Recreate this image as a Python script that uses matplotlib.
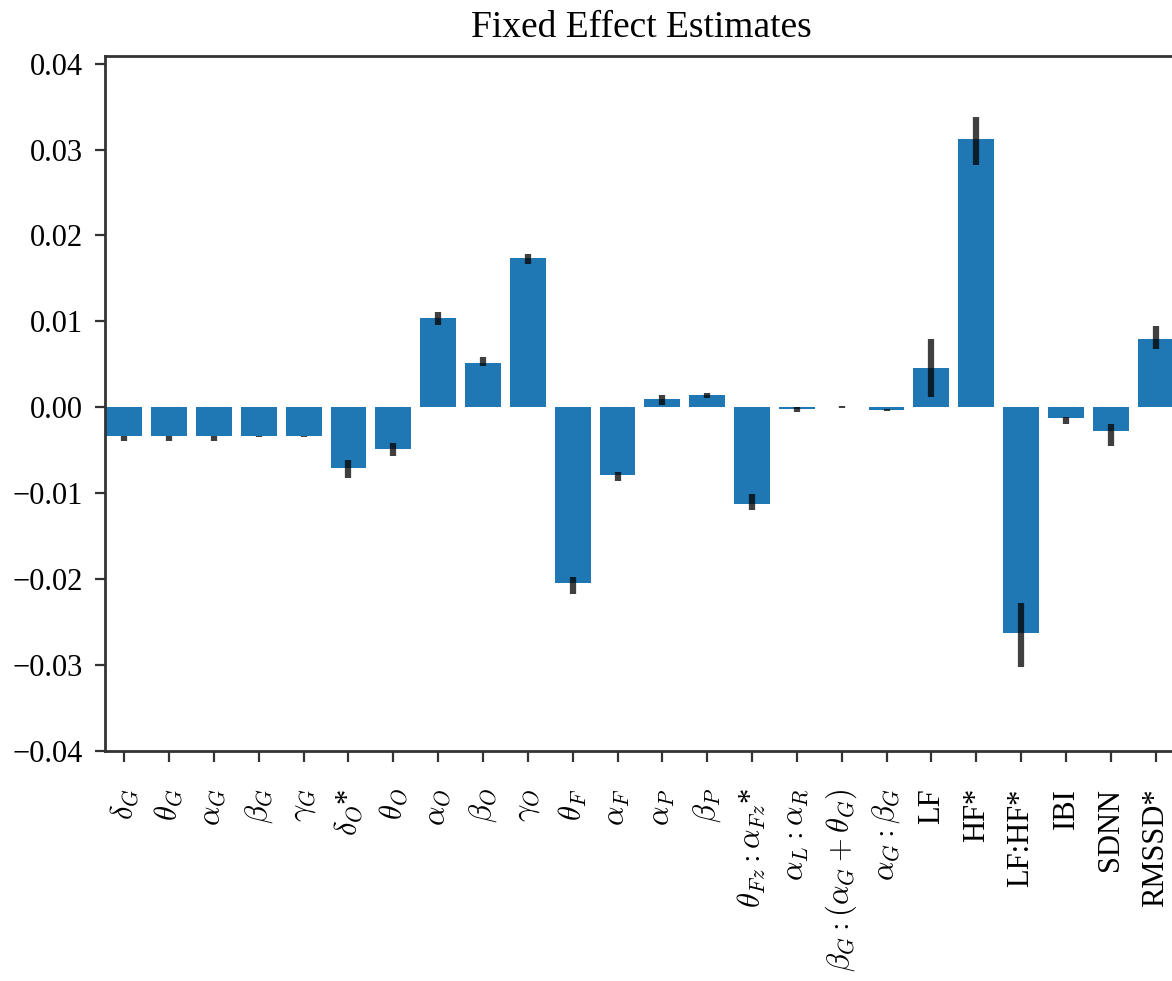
import numpy as np
import matplotlib
matplotlib.use("Agg")
import matplotlib.pyplot as plt

plt.rcParams.update({
    "font.family": "serif",
    "font.serif": ["Liberation Serif", "DejaVu Serif"],
    "mathtext.fontset": "cm",
    "axes.edgecolor": "#333333",
    "axes.linewidth": 2.0,
})

# ── Data ────────────────────────────────────────────────────────────────
labels = [
    r"$\delta_G$", r"$\theta_G$", r"$\alpha_G$", r"$\beta_G$", r"$\gamma_G$",
    r"$\delta_O$*", r"$\theta_O$", r"$\alpha_O$", r"$\beta_O$", r"$\gamma_O$",
    r"$\theta_F$", r"$\alpha_F$", r"$\alpha_P$", r"$\beta_P$",
    r"$\theta_{Fz}:\alpha_{Fz}$*", r"$\alpha_L:\alpha_R$",
    r"$\beta_G:(\alpha_G+\theta_G)$", r"$\alpha_G:\beta_G$",
    "LF", "HF*", "LF:HF*", "IBI", "SDNN", "RMSSD*",
]

estimates = np.array([
    -0.0034, -0.0034, -0.0034, -0.0034, -0.0034,
    -0.0071, -0.0049, 0.0104, 0.0051, 0.0174,
    -0.0205, -0.0079, 0.0010, 0.0014,
    -0.0113, -0.0002, 0.0000, -0.0003,
    0.0046, 0.0312, -0.0263, -0.0013, -0.0028, 0.0080,
])

ci_low = np.array([
    -0.0039, -0.0039, -0.0039, -0.0035, -0.0035,
    -0.0083, -0.0057, 0.0096, 0.0048, 0.0167,
    -0.0217, -0.0086, 0.0002, 0.0011,
    -0.0120, -0.0006, -0.0001, -0.0004,
    0.0012, 0.0282, -0.0303, -0.0019, -0.0045, 0.0068,
])

ci_high = np.array([
    -0.0033, -0.0033, -0.0033, -0.0033, -0.0033,
    -0.0061, -0.0042, 0.0111, 0.0058, 0.0179,
    -0.0198, -0.0076, 0.0014, 0.0017,
    -0.0101, 0.0000, 0.0001, -0.0002,
    0.0080, 0.0338, -0.0228, -0.0011, -0.0019, 0.0094,
])

yticks = [-0.04, -0.03, -0.02, -0.01, 0.00, 0.01, 0.02, 0.03, 0.04]

x = np.arange(len(labels))

# ── Figure ──────────────────────────────────────────────────────────────
fig = plt.figure(figsize=(11.72, 9.81), dpi=100)
ax = fig.add_axes([105 / 1172, (981 - 750.7) / 981,
                   (1178 - 105) / 1172, (750.7 - 56) / 981])

ax.bar(x, estimates, width=0.8, color="#1f77b4", zorder=2)
ax.vlines(x, ci_low, ci_high, color="black", alpha=0.75,
          linewidth=4.5, zorder=3)

ax.set_xlim(-0.43, 23.5)
ax.set_ylim(-0.04, 0.0409)
ax.set_yticks(yticks)
ax.set_yticklabels([f"{v:.2f}".replace("-", "\u2212") for v in yticks])
ax.set_xticks(x)
ax.set_xticklabels(labels, rotation=90)

ax.tick_params(axis="y", labelsize=22, length=7, width=1.6,
               color="#333333", pad=9)
ax.tick_params(axis="x", labelsize=22, length=8, width=1.6,
               color="#333333", pad=19)

ax.set_title("Fixed Effect Estimates", fontsize=27, pad=14)

fig.savefig("out.png", dpi=100)
